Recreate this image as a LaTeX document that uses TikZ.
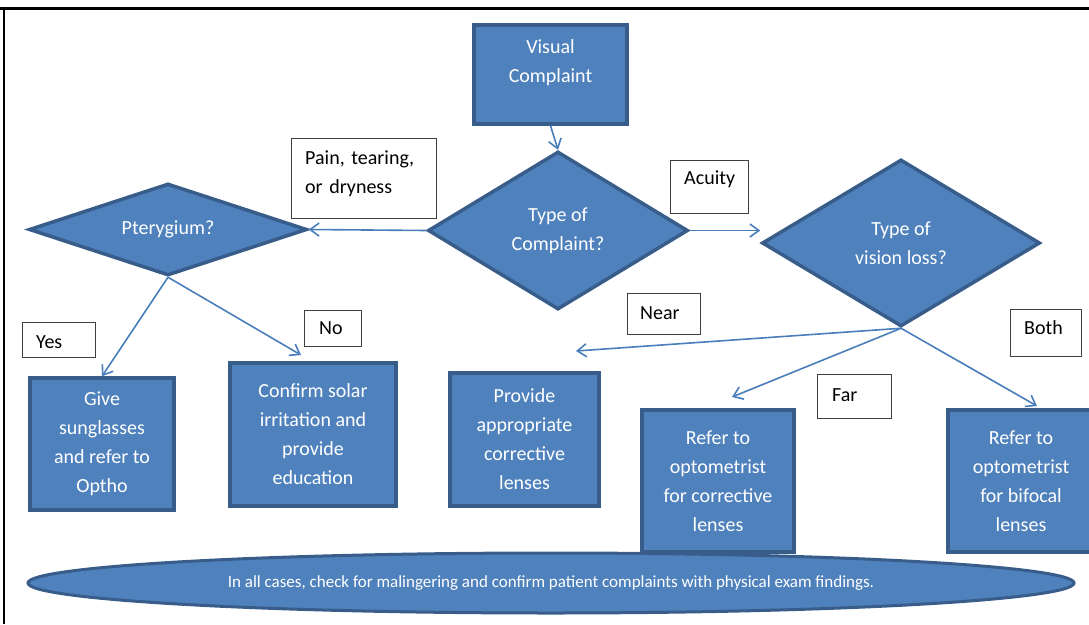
\documentclass[tikz,border=0pt]{standalone}
\usepackage{fontspec}
\setmainfont{Carlito}
\frenchspacing
\usetikzlibrary{shapes.geometric,arrows.meta,calc}
\definecolor{bfill}{HTML}{4F81BD}
\definecolor{bline}{HTML}{385D8A}
\definecolor{aline}{HTML}{4A7EBB}
\definecolor{lline}{HTML}{3F3F3F}
\begin{document}
\begin{tikzpicture}[x=1pt,y=-1pt,
  bbox/.style={rectangle, draw=bline, fill=bfill, line width=3.5pt, text=white, align=center,
    font=\fontsize{20}{29}\selectfont, inner sep=0pt},
  dia/.style={diamond, aspect=2, draw=bline, fill=bfill, line width=3.5pt, text=white, align=center,
    font=\fontsize{20}{29}\selectfont, inner sep=0pt},
  lblbox/.style={rectangle, draw=lline, fill=white, line width=0.8pt, inner sep=0pt},
  lbltext/.style={text=black, align=left, text width=150pt, inner sep=0pt, anchor=base west,
    font=\fontsize{20}{29}\selectfont},
  conn/.style={draw=aline, line width=1.6pt, -{Straight Barb[length=9pt,width=13pt]}},
]
\useasboundingbox (0,0) rectangle (1089,624);
% frame
\draw[line width=3pt] (0,8.5) -- (1089,8.5);
\draw[line width=2.5pt] (4,7) -- (4,624);

% blue process boxes
\node[bbox, minimum width=153pt, minimum height=99pt] (vc) at (550.5,74.5) {};
\node[text=white, align=center, font=\fontsize{20}{29}\selectfont, inner sep=0pt] (vct) at (550.5,62.5) {Visual\\Complaint};
\node[bbox, minimum width=144pt, minimum height=132pt] (give) at (102,444) {Give\\sunglasses\\and refer to\\Optho};
\node[bbox, minimum width=166pt, minimum height=143pt] (conf) at (313,434.5) {Confirm solar\\irritation and\\provide\\education};
\node[bbox, minimum width=149pt, minimum height=133pt] (prov) at (524.5,439.5) {Provide\\appropriate\\corrective\\lenses};
\node[bbox, minimum width=152pt, minimum height=142pt] (refc) at (718,481) {Refer to\\optometrist\\for corrective\\lenses};
\node[bbox, minimum width=146pt, minimum height=142pt] (refb) at (1021,481) {Refer to\\optometrist\\for bifocal\\lenses};

% decisions
\node[dia, minimum width=260pt, minimum height=158pt] (tc) at (558,230.5) {Type of\\Complaint?};
\node[dia, minimum width=278pt, minimum height=92pt] (pt) at (168,229.5) {Pterygium?};
\node[dia, minimum width=278pt, minimum height=167pt] (tv) at (901,243) {Type of\\vision loss?};

% bottom ellipse
\node[ellipse, draw=bline, fill=bfill, line width=3pt, text=white, inner sep=0pt,
  minimum width=1046pt, minimum height=60pt, font=\fontsize{17}{20}\selectfont] (note) at (551,583)
  {In all cases, check for malingering and confirm patient complaints with physical exam findings.};

% label boxes
\node[lblbox, minimum width=145pt, minimum height=80pt] (pain) at (363.5,178) {};
\node[lbltext] (painT) at (305,164) {Pain, tearing,\\or dryness};
\node[lblbox, minimum width=78pt, minimum height=53pt] (acu) at (709,186.5) {};
\node[lbltext] (acuT) at (684,184) {Acuity};
\node[lblbox, minimum width=73pt, minimum height=41pt] (near) at (663.5,313.5) {};
\node[lbltext] (nearT) at (640,319) {Near};
\node[lblbox, minimum width=71pt, minimum height=47pt] (both) at (1045.5,332.5) {};
\node[lbltext] (bothT) at (1024,334) {Both};
\node[lblbox, minimum width=73pt, minimum height=35pt] (yes) at (58.5,339.5) {};
\node[lbltext] (yesT) at (36,348) {Yes};
\node[lblbox, minimum width=57pt, minimum height=36pt] (no) at (332.5,328) {};
\node[lbltext] (noT) at (319,334) {No};
\node[lblbox, minimum width=74pt, minimum height=44pt] (far) at (854,396) {};
\node[lbltext] (farT) at (832,401) {Far};

% connector end points
\coordinate (confin) at (301,355);
\coordinate (provin) at (576,351);
\coordinate (refcin) at (732,397);
\coordinate (refbin) at (1037,406);

% connectors
\draw[conn] (vc.south) -- (tc.north);
\draw[conn] (tc.west) -- (pt.east);
\draw[conn] (tc.east) -- (tc.east -| tv.west);
\draw[conn] (pt.south) -- (give.north);
\draw[conn] (pt.south) -- (confin);
\draw[conn] (tv.south) -- (provin);
\draw[conn] (tv.south) -- (refcin);
\draw[conn] (tv.south) -- (refbin);
\end{tikzpicture}
\end{document}
